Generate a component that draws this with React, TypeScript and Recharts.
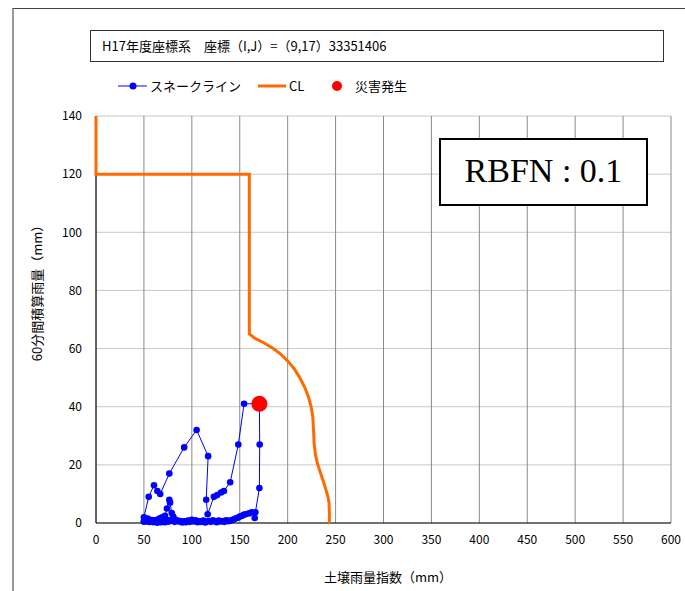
import React from 'react';
import { ComposedChart, Scatter, XAxis, YAxis, CartesianGrid } from 'recharts';

const FONT = '"Noto Sans CJK JP", "Noto Sans", sans-serif';

const xTicks = [0, 50, 100, 150, 200, 250, 300, 350, 400, 450, 500, 550, 600];
const yTicks = [0, 20, 40, 60, 80, 100, 120, 140];

// スネークライン (soil index, 60min rain)
const snakeSoil = [
  60, 62, 64, 66, 68, 69, 71, 72, 74, 76.5, 77.3, 79, 80.6, 81, 80, 79, 78, 76, 74, 72, 70, 68, 66, 64,
  62, 60, 58, 56, 54, 53, 52, 51, 50,
  50, 55, 60.5, 64, 67, 76.5, 92, 105, 117, 115, 116.5, 123, 126.5, 130.5, 133.5, 140, 148.5, 154.5, 170.5,
  170.8, 170.5, 166.3, 165.6, 162.5, 159.7, 156, 154, 152, 150, 148, 146, 144, 142,
  140, 138, 136, 134, 132, 130, 128, 126, 124, 122, 120, 118, 116, 114, 112, 110, 108, 106, 104, 102,
  100, 98, 96, 94, 92, 90, 88, 86, 84, 82, 80, 78, 76, 74, 72, 70, 68, 66, 64, 62, 60, 58, 56, 54, 52, 50,
];
const snakeRain = [
  0.5, 0.8, 1, 1.5, 1.2, 2, 2, 2.5, 5, 8, 7, 3.4, 2.2, 1.5, 1.2, 1, 0.8, 0.5, 0.7, 0.3, 0.6, 0.4, 0.8, 0.2,
  0.6, 0.3, 0.9, 0.4, 1, 0.5, 1.2, 0.6, 0.5,
  2, 9, 13, 11, 10, 17, 26, 32, 23, 8, 3, 9, 9.6, 10.5, 11, 14, 27, 41, 41,
  27, 12, 3.7, 1.7, 3.7, 3.3, 3, 2.8, 2.4, 2.2, 1.8, 1.6, 1.3, 1,
  0.8, 0.6, 0.9, 0.4, 0.7, 0.5, 0.8, 0.3, 0.6, 0.9, 0.4, 0.7, 0.5, 0.2, 0.8, 0.4, 0.6, 0.3, 0.9, 0.5,
  1.1, 0.4, 0.8, 0.3, 0.6, 0.2, 0.7, 0.5, 1, 0.4, 1.3, 0.9, 0.6, 1.1, 0.4, 0.8, 0.3, 0.6, 0.2, 0.9, 0.5,
  1, 0.4, 1.5, 1.2, 0.5,
];

// CL
const clSoil = [
  0, 0, 160, 160, 166, 175, 185, 193, 200.7, 207, 213, 218, 221.6, 224.5, 226.2, 227, 227.6, 229, 231,
  235, 239, 242, 243.2, 243.5, 243.5,
];
const clRain = [
  140, 120, 120, 65, 63.5, 62, 60, 58, 55.5, 53, 49.8, 46.5, 43.4, 40, 36.6, 32, 27.4, 23.5, 20.5,
  16.5, 12.5, 9, 6.8, 3, 0,
];

// 災害発生
const disasterSoil = [170.5];
const disasterRain = [41];

const snakeData = snakeSoil.map((x, i) => ({ x, y: snakeRain[i] }));
const clData = clSoil.map((x, i) => ({ x, y: clRain[i] }));
const disasterData = disasterSoil.map((x, i) => ({ x, y: disasterRain[i] }));

const BlueDot = (props: any) => <circle cx={props.cx} cy={props.cy} r={3.3} fill="#0000ff" />;
const RedDot = (props: any) => <circle cx={props.cx} cy={props.cy} r={8} fill="#ff0000" />;
const NoDot = () => <g />;

const tickStyle = { fill: '#000', fontSize: 12, fontFamily: FONT };

export default function App() {
  return (
    <div
      style={{
        position: 'absolute',
        left: 0,
        top: 0,
        width: 685,
        height: 591,
        background: '#fff',
        overflow: 'hidden',
        fontFamily: FONT,
      }}
    >
      {/* outer frame */}
      <div
        style={{
          position: 'absolute',
          left: 12,
          top: 8,
          width: 700,
          height: 620,
          borderTop: '1px solid #444',
          borderLeft: '2px solid #999',
        }}
      />

      {/* title */}
      <div
        style={{
          position: 'absolute',
          left: 90,
          top: 30,
          width: 574,
          height: 32,
          border: '1px solid #333',
          boxSizing: 'border-box',
          fontSize: 13,
          lineHeight: '30px',
          paddingLeft: 11,
          color: '#000',
        }}
      >
        H17年度座標系　座標（I,J）=（9,17）33351406
      </div>

      {/* legend */}
      <svg style={{ position: 'absolute', left: 0, top: 77 }} width={685} height={20}>
        <line x1={118} x2={147} y1={9} y2={9} stroke="#0000ff" strokeWidth={1} />
        <circle cx={133} cy={9} r={3.5} fill="#0000ff" />
        <text x={150} y={13.5} fontSize={13} fontFamily={FONT} fill="#000">スネークライン</text>
        <line x1={258} x2={286} y1={9} y2={9} stroke="#ff6a00" strokeWidth={3} />
        <text x={289} y={13.5} fontSize={13} fontFamily={FONT} fill="#000">CL</text>
        <circle cx={337} cy={9} r={5} fill="#ff0000" />
        <text x={355} y={13.5} fontSize={13} fontFamily={FONT} fill="#000">災害発生</text>
      </svg>

      <div style={{ position: 'absolute', left: 0, top: 0 }}>
        <ComposedChart width={685} height={591} margin={{ top: 116, right: 14, bottom: 38, left: 56 }}>
          <CartesianGrid horizontal vertical={false} stroke="#c8c8c8" />
          <CartesianGrid horizontal={false} vertical stroke="#8a8a8a" />
          <XAxis
            type="number"
            dataKey="x"
            domain={[0, 600]}
            ticks={xTicks}
            tickLine={false}
            axisLine={{ stroke: '#000' }}
            tick={tickStyle}
            tickMargin={6}
            height={30}
            interval={0}
          />
          <YAxis
            type="number"
            dataKey="y"
            domain={[0, 140]}
            ticks={yTicks}
            tickLine={false}
            axisLine={{ stroke: '#000' }}
            tick={tickStyle}
            tickMargin={8}
            width={40}
            interval={0}
          />
          <Scatter
            data={clData}
            fill="#ff6a00"
            line={{ stroke: '#ff6a00', strokeWidth: 3 }}
            shape={NoDot}
            isAnimationActive={false}
          />
          <Scatter
            data={snakeData}
            fill="#0000ff"
            line={{ stroke: '#0000ff', strokeWidth: 1 }}
            shape={BlueDot}
            isAnimationActive={false}
          />
          <Scatter data={disasterData} fill="#ff0000" shape={RedDot} isAnimationActive={false} />
        </ComposedChart>
      </div>

      {/* RBFN box */}
      <div
        style={{
          position: 'absolute',
          left: 439,
          top: 138,
          width: 209,
          height: 68,
          border: '2px solid #000',
          boxSizing: 'border-box',
          background: '#fff',
          fontFamily: '"Liberation Serif", "DejaVu Serif", serif',
          fontSize: 34,
          lineHeight: '62px',
          textAlign: 'center',
          color: '#000',
        }}
      >
        RBFN : 0.1
      </div>

      {/* axis titles */}
      <div
        style={{
          position: 'absolute',
          left: 36,
          top: 290,
          transform: 'translate(-50%, -50%) rotate(-90deg)',
          whiteSpace: 'nowrap',
          fontSize: 13,
          color: '#000',
        }}
      >
        60分間積算雨量（mm）
      </div>
      <div
        style={{
          position: 'absolute',
          left: 388,
          top: 576,
          transform: 'translate(-50%, -50%)',
          whiteSpace: 'nowrap',
          fontSize: 13,
          color: '#000',
        }}
      >
        土壌雨量指数（mm）
      </div>
    </div>
  );
}
